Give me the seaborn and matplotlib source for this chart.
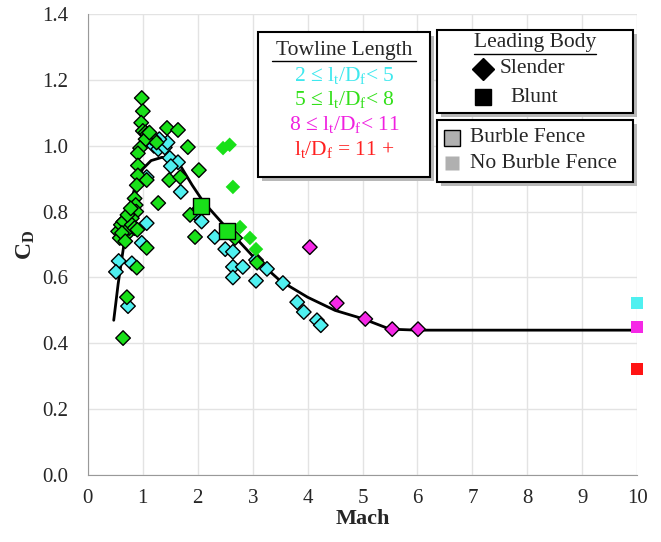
import matplotlib
matplotlib.use("Agg")
import matplotlib.pyplot as plt
from matplotlib.lines import Line2D
from matplotlib.patches import Rectangle
import pandas as pd
import seaborn as sns

# slender body, burble fence, 2 <= lt/Df < 5
cyan_mach = [1.20, 1.28, 1.35, 1.40, 1.45, 1.30, 1.49, 1.64, 1.51, 1.07, 1.69, 1.95, 2.07,
             2.31, 2.50, 2.64, 2.64, 2.82, 2.64, 3.06, 3.26, 3.06, 3.55, 3.81, 3.93, 4.17,
             4.24, 1.07, 0.98, 0.56, 0.51, 0.80, 0.73]
cyan_cd = [1.00, 0.99, 1.005, 0.995, 1.01, 1.02, 0.963, 0.95, 0.938, 0.905, 0.86, 0.796, 0.77,
           0.723, 0.686, 0.678, 0.632, 0.632, 0.60, 0.653, 0.626, 0.59, 0.583, 0.525, 0.495, 0.47,
           0.455, 0.765, 0.705, 0.65, 0.617, 0.643, 0.513]

# slender body, burble fence, 5 <= lt/Df < 8
green_mach = [0.98, 1.00, 0.97, 1.00, 1.05, 1.08, 1.10, 1.15, 1.20, 1.05, 1.12, 1.25,
              1.44, 1.64, 1.82, 0.95, 2.02, 1.48, 1.68, 0.91, 0.91, 0.91, 0.89, 1.07,
              1.28, 0.85, 0.87, 0.88, 0.80, 0.64, 1.86, 1.95, 2.68, 3.08, 1.07, 0.89,
              0.71, 0.64, 0.55, 0.60, 0.65, 0.70, 0.75, 0.58, 0.62, 0.80, 0.85, 0.90,
              0.68, 0.72, 0.78]
green_cd = [1.145, 1.105, 1.07, 1.045, 1.04, 1.035, 1.03, 1.025, 1.02, 1.02, 1.04, 1.01,
            1.054, 1.048, 0.996, 0.993, 0.926, 0.896, 0.905, 0.977, 0.94, 0.91, 0.88, 0.896,
            0.826, 0.84, 0.82, 0.80, 0.78, 0.768, 0.79, 0.723, 0.72, 0.645, 0.69, 0.63,
            0.54, 0.416, 0.74, 0.76, 0.77, 0.73, 0.75, 0.72, 0.735, 0.76, 0.75, 0.745,
            0.71, 0.79, 0.81]

# slender body, no burble fence, 5 <= lt/Df < 8
green_nf_mach = [2.46, 2.58, 2.64, 2.77, 2.95, 3.06]
green_nf_cd = [0.993, 1.003, 0.875, 0.753, 0.72, 0.686]

# slender body, burble fence, 8 <= lt/Df < 11
magenta_mach = [4.04, 4.53, 5.05, 5.54, 6.01]
magenta_cd = [0.692, 0.522, 0.474, 0.443, 0.443]

# blunt body, burble fence, 5 <= lt/Df < 8
blunt_mach = [2.06, 2.53]
blunt_cd = [0.817, 0.741]

# blunt body, no burble fence, at Mach 10
end_mach = [10, 10, 10]
end_cd = [0.522, 0.45, 0.322]
end_tow = ["2-5", "8-11", "11+"]

# fitted curve
curve_mach = [0.47, 0.55, 0.62, 0.70, 0.80, 0.90, 1.00, 1.15, 1.35, 1.55, 1.70, 1.90,
              2.10, 2.50, 3.00, 3.50, 4.00, 4.50, 5.00, 5.50, 6.00, 9.90]
curve_cd = [0.47, 0.58, 0.66, 0.75, 0.84, 0.90, 0.93, 0.955, 0.965, 0.955, 0.935, 0.88,
            0.83, 0.755, 0.665, 0.59, 0.54, 0.50, 0.475, 0.443, 0.44, 0.44]

colors = {"2-5": "#4ff0f0", "5-8": "#19e019", "8-11": "#f528e6", "11+": "#ff1414"}
text_colors = {"2-5": "#3ee8ee", "5-8": "#33e01a", "8-11": "#f020e0", "11+": "#ff2020"}


def frame(mach, cd, tow, body, fence):
    if isinstance(tow, str):
        tow = [tow] * len(mach)
    return pd.DataFrame({"Mach": mach, "CD": cd, "Towline": tow,
                         "Body": body, "Fence": fence})


df = pd.concat([
    frame(cyan_mach, cyan_cd, "2-5", "Slender", True),
    frame(green_mach, green_cd, "5-8", "Slender", True),
    frame(green_nf_mach, green_nf_cd, "5-8", "Slender", False),
    frame(magenta_mach, magenta_cd, "8-11", "Slender", True),
    frame(blunt_mach, blunt_cd, "5-8", "Blunt", True),
    frame(end_mach, end_cd, end_tow, "Blunt", False),
], ignore_index=True)

sns.set_style("whitegrid")
plt.rcParams["font.family"] = ["Liberation Serif", "DejaVu Serif"]
plt.rcParams["mathtext.fontset"] = "custom"
plt.rcParams["mathtext.rm"] = "Liberation Serif"
plt.rcParams["mathtext.it"] = "Liberation Serif:italic"
plt.rcParams["mathtext.bf"] = "Liberation Serif:bold"

fig = plt.figure(figsize=(6.61, 5.42), dpi=100)
ax = fig.add_axes([0.133, 0.1236, 0.831, 0.8504])

sns.lineplot(x=curve_mach, y=curve_cd, color="black", linewidth=2, estimator=None,
             sort=False, ax=ax, zorder=2)

styles = [
    ("Slender", True, "D", 55, "black"),
    ("Slender", False, "D", 55, "none"),
    ("Blunt", True, "s", 130, "black"),
    ("Blunt", False, "s", 75, "none"),
]
for body, fence, marker, size, edge in styles:
    sub = df[(df["Body"] == body) & (df["Fence"] == fence)]
    sns.scatterplot(data=sub, x="Mach", y="CD", hue="Towline", palette=colors,
                    marker=marker, s=size, edgecolor=edge, linewidth=1,
                    legend=False, ax=ax, zorder=3, clip_on=False)

ax.set_xlim(0, 10)
ax.set_ylim(0, 1.4)
ax.set_xticks(range(0, 11))
ax.set_yticks([0, 0.2, 0.4, 0.6, 0.8, 1.0, 1.2, 1.4])
ax.set_yticklabels([f"{v:.1f}" for v in ax.get_yticks()])
ax.tick_params(labelsize=15, direction="out", length=5, color="#999999", width=1)
ax.tick_params(axis="x", pad=5)
ax.tick_params(axis="y", pad=9)
ax.grid(True, color="#e3e3e3", linewidth=1)
for side in ["top", "right"]:
    ax.spines[side].set_visible(False)
for side in ["left", "bottom"]:
    ax.spines[side].set_color("#999999")
ax.set_xlabel("Mach", fontsize=16, fontweight="bold", labelpad=1)
ax.set_ylabel(r"$\mathbf{C_D}$", fontsize=17, labelpad=4)

W, H = 661, 542


def box(x0, y0, x1, y1):
    fig.add_artist(Rectangle((x0 / W + 4 / W, 1 - y1 / H - 4 / H), (x1 - x0) / W,
                             (y1 - y0) / H, transform=fig.transFigure,
                             facecolor="#b8b8b8", edgecolor="none", zorder=4))
    fig.add_artist(Rectangle((x0 / W, 1 - y1 / H), (x1 - x0) / W, (y1 - y0) / H,
                             transform=fig.transFigure, facecolor="white",
                             edgecolor="black", linewidth=1.5, zorder=5))


def put(x, y, s, **kw):
    fig.text(x / W, 1 - y / H, s, va="center", zorder=6, **kw)


def underline(x0, x1, y):
    fig.add_artist(Line2D([x0 / W, x1 / W], [1 - y / H, 1 - y / H],
                          transform=fig.transFigure, color="black", lw=1, zorder=6))


def mark(x, y, marker, size, face, edge):
    fig.add_artist(Line2D([x / W], [1 - y / H], marker=marker, markersize=size,
                          markerfacecolor=face, markeredgecolor=edge, markeredgewidth=1,
                          linestyle="none", transform=fig.transFigure, zorder=6))


# towline legend
box(258, 32, 430, 177)
put(344, 50, "Towline Length", ha="center", fontsize=15.5)
underline(272, 416, 61)
tow_lines = [r"2 ≤ l$_\mathrm{t}$/D$_\mathrm{f}$< 5", r"5 ≤ l$_\mathrm{t}$/D$_\mathrm{f}$< 8",
             r"8 ≤ l$_\mathrm{t}$/D$_\mathrm{f}$< 11", r"l$_\mathrm{t}$/D$_\mathrm{f}$ = 11 +"]
for i, (label, key) in enumerate(zip(tow_lines, ["2-5", "5-8", "8-11", "11+"])):
    put(344, 75 + 24.8 * i, label, ha="center", fontsize=15.5, color=text_colors[key])

# leading body legend
box(437, 30, 633, 113)
put(535, 43, "Leading Body", ha="center", fontsize=15.5)
underline(474, 596, 54)
mark(483, 69, "D", 11, "black", "black")
put(500, 69, "Slender", fontsize=15.5)
mark(483, 97, "s", 12, "black", "black")
put(510, 98, "Blunt", fontsize=15.5)

# burble fence legend
box(437, 120, 633, 182)
mark(452, 138, "s", 11, "#b0b0b0", "black")
put(470, 138, "Burble Fence", fontsize=15.5)
mark(452, 163, "s", 10, "#b0b0b0", "none")
put(470, 164, "No Burble Fence", fontsize=15.5)

fig.savefig("out.png", dpi=100)
